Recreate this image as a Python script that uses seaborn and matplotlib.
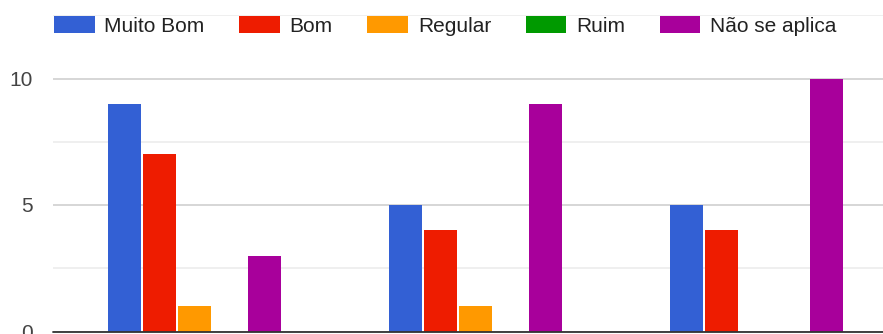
import matplotlib
matplotlib.use("Agg")
import matplotlib.pyplot as plt
import seaborn as sns
import pandas as pd
from matplotlib.ticker import MultipleLocator
from matplotlib.patches import Patch

# Survey answers per item
items = ["Item 1", "Item 2", "Item 3"]
ratings = ["Muito Bom", "Bom", "Regular", "Ruim", "Não se aplica"]
muito_bom = [9, 5, 5]
bom = [7, 4, 4]
regular = [1, 1, 0]
ruim = [0, 0, 0]
nao_se_aplica = [3, 9, 10]
yticks = [0, 5, 10]

colors = ["#3360d4", "#ee1c00", "#ff9900", "#009a00", "#a8009b"]

rows = []
for rating, vals in zip(ratings, [muito_bom, bom, regular, ruim, nao_se_aplica]):
    for item, v in zip(items, vals):
        rows.append({"item": item, "rating": rating, "count": v})
df = pd.DataFrame(rows)

sns.set_theme(style="white")
plt.rcParams["font.family"] = ["Liberation Sans", "DejaVu Sans"]

W, H = 883, 334
fig = plt.figure(figsize=(W / 100, H / 100), dpi=100)
ax = fig.add_axes([53 / W, 2.5 / H, 830 / W, 316.25 / H])

sns.barplot(data=df, x="item", y="count", hue="rating", order=items,
            hue_order=ratings, palette=colors, width=0.623, gap=0.05,
            linewidth=0, saturation=1, ax=ax, legend=False, zorder=3)

ax.set_xlim(-0.504, 2.449)
ax.set_ylim(0, 12.5)
ax.yaxis.set_major_locator(MultipleLocator(5))
ax.yaxis.set_minor_locator(MultipleLocator(2.5))
ax.set_yticks(yticks)
ax.set_yticklabels([str(t) for t in yticks])
ax.grid(axis="y", which="major", color="#cccccc", linewidth=1.1, zorder=0)
ax.grid(axis="y", which="minor", color="#ebebeb", linewidth=1.1, zorder=0)
ax.grid(axis="x", visible=False)
ax.set_axisbelow(True)
ax.tick_params(axis="y", which="both", length=0, pad=14.5, labelsize=15,
               labelcolor="#444444")
ax.set_xticks([])
ax.set_xlabel("")
ax.set_ylabel("")
for s in ax.spines.values():
    s.set_visible(False)
ax.axhline(0, color="#333333", linewidth=1.3, zorder=5, clip_on=False)

handles = [Patch(facecolor=c, edgecolor="none") for c in colors]
fig.legend(handles, ratings, loc="center left",
           bbox_to_anchor=(54 / W, 1 - 26 / H), ncol=5, frameon=False,
           fontsize=15, handlelength=1.95, handleheight=0.88,
           handletextpad=0.47, columnspacing=1.66, borderpad=0,
           borderaxespad=0, labelcolor="#222222")

fig.savefig("out.png", dpi=100)
